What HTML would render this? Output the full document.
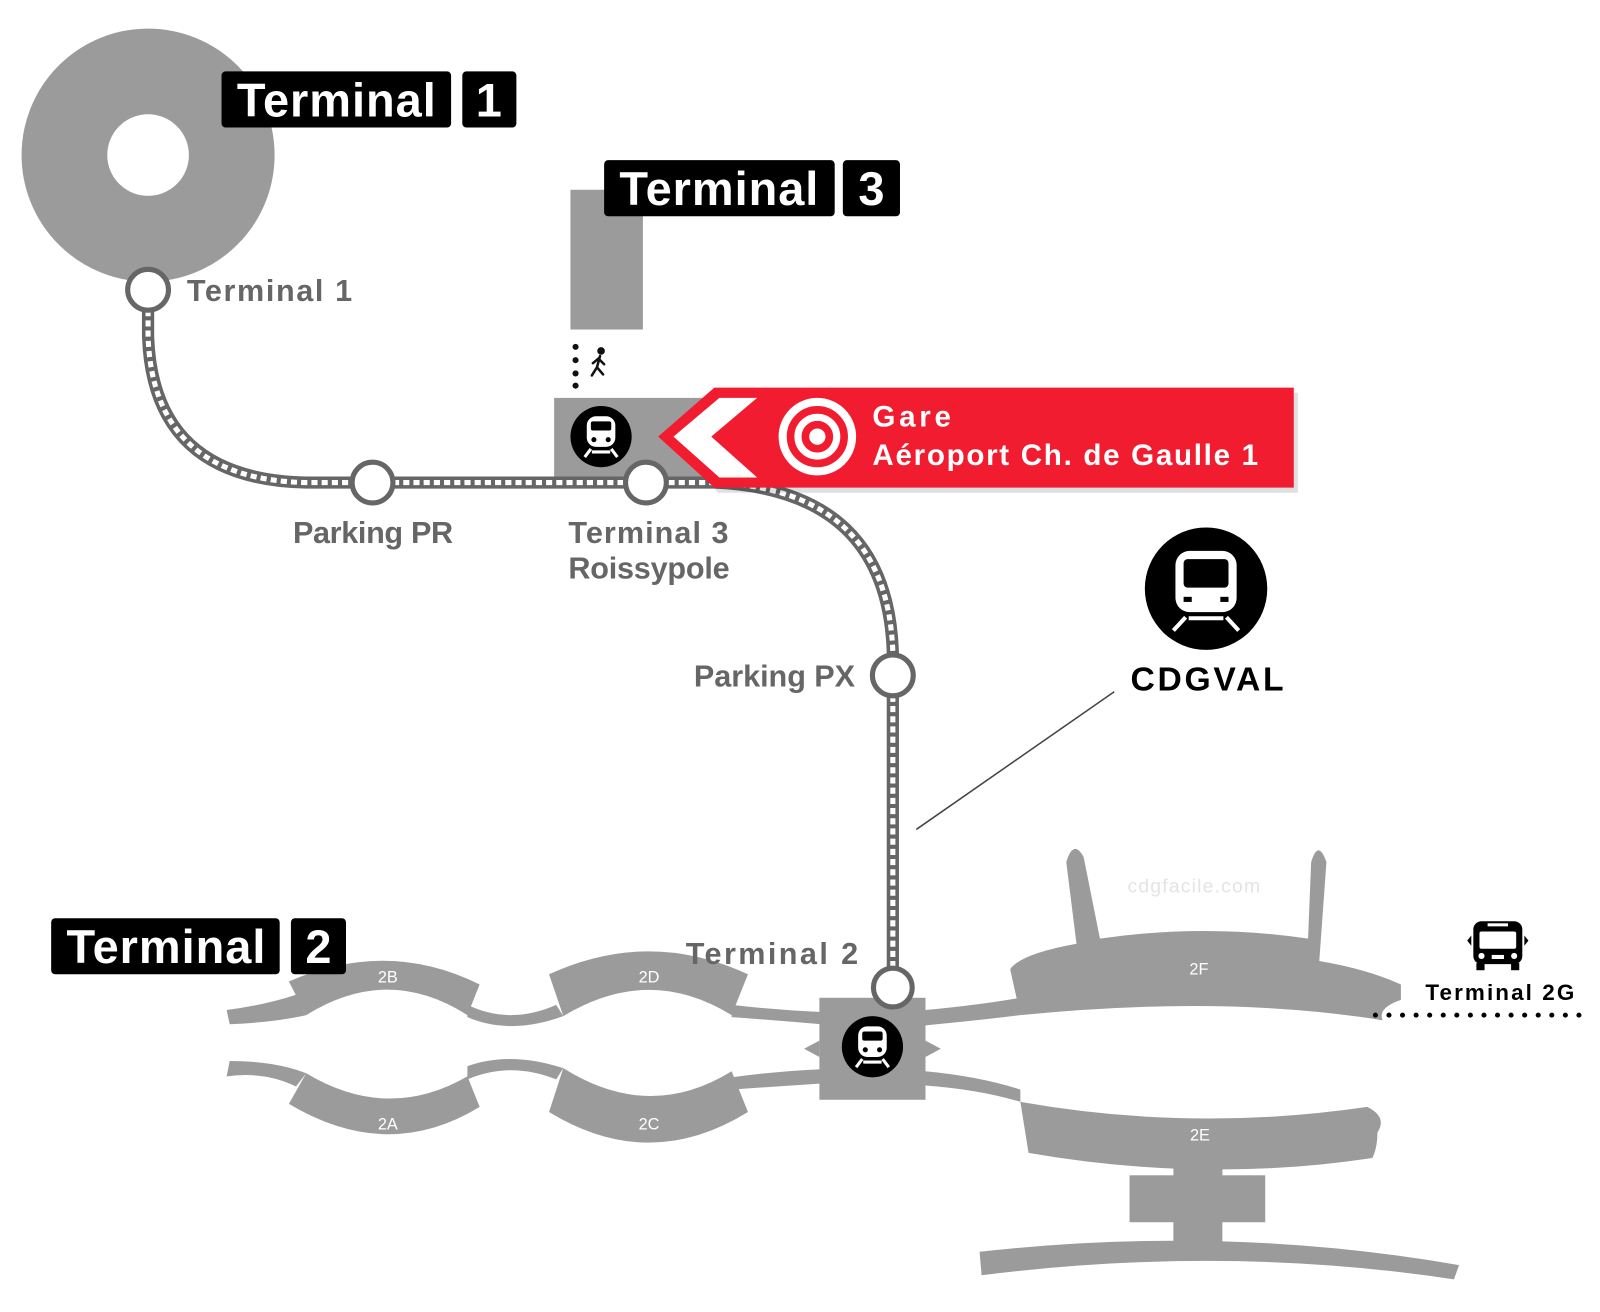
<!DOCTYPE html>
<html><head><meta charset="utf-8"><style>
html,body{margin:0;padding:0;background:#fff;}
svg{display:block;}
text{font-family:"Liberation Sans",sans-serif;font-weight:bold;}
</style></head><body>
<svg width="1600" height="1312" viewBox="0 0 1568 1286" xmlns="http://www.w3.org/2000/svg">
<defs>
<g id="train">
<circle r="30" fill="#000"/>
<rect x="-14" y="-20" width="28" height="30" rx="9" fill="#fff"/>
<rect x="-10" y="-15" width="20" height="9" rx="2" fill="#000"/>
<circle cx="-7" cy="3" r="2.5" fill="#000"/><circle cx="7" cy="3" r="2.5" fill="#000"/>
<path d="M-10 12 L-16 20 M10 12 L16 20 M-9 15 H9" stroke="#fff" stroke-width="3"/>
</g>
</defs>
<!-- Terminal 1 donut -->
<circle cx="145" cy="152" r="82" fill="none" stroke="#9b9b9b" stroke-width="84"/>
<!-- T3 building -->
<rect x="559" y="186" width="71" height="137" fill="#9b9b9b"/>
<rect x="543" y="390" width="160" height="82" fill="#9b9b9b"/>
<!-- walk dots -->
<g fill="#111"><circle cx="564" cy="340" r="3"/><circle cx="564" cy="353" r="3"/><circle cx="564" cy="366" r="3"/><circle cx="564" cy="378" r="3"/></g>
<g stroke="#111" stroke-width="2.5" fill="none" stroke-linecap="round"><circle cx="589" cy="344" r="2.5" fill="#111"/><path d="M588 349 L585 360 L580 368 M585 360 L591 367 M587 352 L592 357 M587 351 L581 356"/></g>
<!-- line -->
<path d="M145 284 L145 330 Q150 470 300 473 L700 473 Q870 480 875 640 L875 968" fill="none" stroke="#666" stroke-width="12"/>
<path d="M145 284 L145 330 Q150 470 300 473 L700 473 Q870 480 875 640 L875 968" fill="none" stroke="#fff" stroke-width="5" stroke-dasharray="6 4"/>
<!-- Terminal 2 shapes -->
<g fill="#9b9b9b">
<path d="M222 990 Q260 985 290 975 L300 995 Q270 1002 225 1004 Z"/>
<path d="M283 962 Q380 920 470 965 L458 995 Q380 945 300 995 Z"/>
<path d="M458 985 Q500 1005 545 985 L552 996 Q500 1015 458 997 Z"/>
<path d="M538 955 Q636 910 733 955 L717 995 Q636 945 552 996 Z"/>
<path d="M717 985 Q760 990 805 992 L805 1004 Q760 1000 717 997 Z"/>
<path d="M222 1055 Q260 1050 290 1065 L300 1052 Q270 1040 225 1040 Z"/>
<path d="M283 1082 Q380 1140 470 1085 L458 1055 Q380 1100 300 1052 Z"/>
<path d="M458 1058 Q500 1040 545 1058 L552 1047 Q500 1030 458 1045 Z"/>
<path d="M538 1090 Q636 1150 733 1090 L717 1050 Q636 1100 552 1047 Z"/>
<path d="M717 1056 Q760 1050 805 1048 L805 1062 Q760 1065 717 1068 Z"/>
<rect x="803" y="978" width="104" height="100"/>
<path d="M803 1020 L788 1028 L803 1036 Z M907 1020 L922 1028 L907 1036 Z"/>
<path d="M907 990 Q960 985 1000 978 L1000 995 Q960 1000 907 1005 Z"/>
<path d="M907 1050 Q960 1055 1000 1068 L1000 1080 Q960 1068 907 1064 Z"/>
<path d="M990 950 Q1000 935 1055 925 L1045 845 Q1052 822 1062 840 L1078 920 Q1180 905 1282 920 L1285 845 Q1292 822 1300 845 L1293 942 Q1340 950 1373 965 L1373 980 Q1350 988 1355 1000 Q1200 975 1000 995 Z"/>
<path d="M1000 1080 Q1170 1110 1340 1085 Q1360 1095 1350 1110 Q1350 1125 1345 1135 Q1180 1160 1008 1130 Z"/>
<rect x="1107" y="1152" width="133" height="46"/>
<rect x="1150" y="1130" width="48" height="100"/>
<path d="M960 1227 Q1200 1200 1430 1240 L1425 1254 Q1200 1220 962 1250 Z"/>
</g>
<g fill="#fff" font-size="16" text-anchor="middle">
<text x="380" y="963" style="font-weight:normal">2B</text><text x="636" y="963" style="font-weight:normal">2D</text>
<text x="380" y="1107" style="font-weight:normal">2A</text><text x="636" y="1107" style="font-weight:normal">2C</text>
<text x="1175" y="955" style="font-weight:normal">2F</text><text x="1176" y="1118" style="font-weight:normal">2E</text>
</g>
<text x="1105" y="875" font-size="19" fill="#e4e4e4" style="font-weight:normal" textLength="130">cdgfacile.com</text>
<use href="#train" x="855" y="1026"/>
<use href="#train" x="589" y="428"/>
<!-- stations -->
<g fill="#fff" stroke="#666" stroke-width="5">
<circle cx="145" cy="284" r="20"/><circle cx="365" cy="473" r="20"/><circle cx="633" cy="473" r="20"/>
<circle cx="875" cy="662" r="20"/><circle cx="875" cy="968" r="19"/>
</g>
<!-- red banner -->
<g>
<path d="M655 428 L700 380 L1268 380 L1268 478 L700 478 Z" fill="#000" opacity="0.12" transform="translate(4,5)"/>
<path d="M645 428 L700 380 L1268 380 L1268 478 L700 478 Z" fill="#f21c30"/>
<path d="M660 428 L705 390 L742 390 L697 428 L742 468 L705 468 Z" fill="#fff"/>
<circle cx="801" cy="428" r="34" fill="none" stroke="#fff" stroke-width="8"/>
<circle cx="801" cy="428" r="19" fill="none" stroke="#fff" stroke-width="7"/>
<circle cx="801" cy="428" r="8" fill="#fff"/>
<text x="855" y="418" font-size="29" fill="#fff" textLength="77">Gare</text>
<text x="855" y="456" font-size="29" fill="#fff" textLength="378">Aéroport Ch. de Gaulle 1</text>
</g>
<!-- labels -->
<g fill="#666" font-size="30">
<text x="183" y="295" textLength="162">Terminal 1</text>
<text x="287" y="532" textLength="157">Parking PR</text>
<text x="557" y="532" textLength="157">Terminal 3</text>
<text x="557" y="567" textLength="158">Roissypole</text>
<text x="680" y="673" textLength="158">Parking PX</text>
<text x="672" y="945" textLength="169">Terminal 2</text>
</g>
<!-- black title boxes -->
<g fill="#000">
<rect x="217" y="70" width="225" height="55" rx="4"/><rect x="453" y="70" width="53" height="55" rx="4"/>
<rect x="592" y="157" width="226" height="55" rx="4"/><rect x="826" y="157" width="56" height="55" rx="4"/>
<rect x="50" y="900" width="224" height="55" rx="4"/><rect x="285" y="900" width="54" height="55" rx="4"/>
</g>
<g fill="#fff" font-size="46">
<text x="232" y="114" textLength="195">Terminal</text><text x="479" y="114" text-anchor="middle">1</text>
<text x="607" y="201" textLength="195">Terminal</text><text x="854" y="201" text-anchor="middle">3</text>
<text x="65" y="944" textLength="195">Terminal</text><text x="312" y="944" text-anchor="middle">2</text>
</g>
<!-- CDGVAL -->
<circle cx="1182" cy="577" r="60" fill="#000"/>
<rect x="1152" y="540" width="60" height="60" rx="14" fill="#fff"/>
<rect x="1160" y="548" width="44" height="28" rx="4" fill="#000"/>
<rect x="1160" y="585" width="8" height="5" fill="#000"/><rect x="1196" y="585" width="8" height="5" fill="#000"/>
<path d="M1162 605 L1150 618 M1202 605 L1214 618 M1165 606 H1199" stroke="#fff" stroke-width="4"/>
<text x="1108" y="677" font-size="33" fill="#000" textLength="150">CDGVAL</text>
<line x1="1092" y1="678" x2="898" y2="813" stroke="#444" stroke-width="1.5"/>
<!-- bus -->
<g>
<rect x="1444" y="903" width="48" height="42" rx="8" fill="#000"/>
<rect x="1450" y="913" width="36" height="17" rx="2" fill="#fff"/>
<rect x="1458" y="905" width="20" height="3" fill="#fff"/>
<circle cx="1452" cy="937" r="3" fill="#fff"/><circle cx="1484" cy="937" r="3" fill="#fff"/>
<rect x="1462" y="936" width="12" height="4" fill="#fff"/>
<rect x="1447" y="944" width="8" height="7" fill="#000"/><rect x="1481" y="944" width="8" height="7" fill="#000"/>
<path d="M1442 917 L1438 922 L1442 927 Z M1494 917 L1498 922 L1494 927 Z" fill="#000"/>
</g>
<text x="1397" y="980" font-size="22" fill="#000" textLength="146">Terminal 2G</text>
<line x1="1348" y1="995" x2="1560" y2="995" stroke="#000" stroke-width="5" stroke-linecap="round" stroke-dasharray="0 13.3"/>
</svg>
</body></html>
